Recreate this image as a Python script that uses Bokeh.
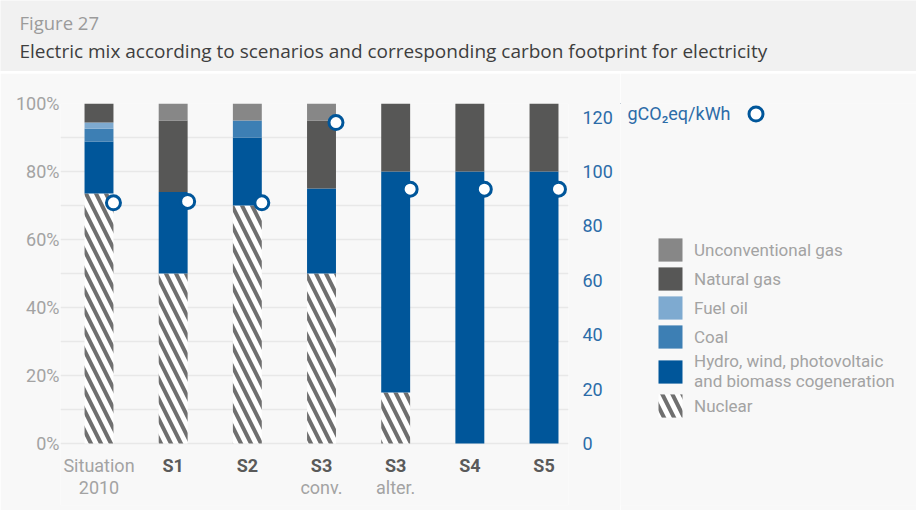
import re
from bokeh.plotting import figure
from bokeh.models import (ColumnDataSource, Range1d, LinearAxis, FixedTicker,
                          Legend, LegendItem, Label, CDSView, IndexFilter)
from bokeh.transform import dodge, stack
from bokeh.layouts import column, row
from bokeh.embed import file_html
from bokeh.resources import INLINE
from bokeh.core.properties import value

# ---------------- data ----------------
categories = ["Situation 2010", "S1", "S2", "S3 conv.", "S3 alter.", "S4", "S5"]
cat_main = ["Situation", "S1", "S2", "S3", "S3", "S4", "S5"]
cat_sub = ["2010", "", "", "conv.", "alter.", "", ""]

nuclear = [73.5, 50, 70, 50, 15, 0, 0]
hydro = [15.3, 24, 20, 25, 65, 80, 80]
coal = [3.8, 0, 5, 0, 0, 0, 0]
fuel_oil = [1.8, 0, 0, 0, 0, 0, 0]
natural_gas = [5.6, 21, 0, 20, 20, 20, 20]
unconv_gas = [0, 5, 5, 5, 0, 0, 0]
co2 = [88.5, 89, 88.5, 118, 93.5, 93.5, 93.5]

pct_ticks = [0, 20, 40, 60, 80, 100]
pct_grid = [0, 10, 20, 30, 40, 50, 60, 70, 80, 90, 100]
co2_ticks = [0, 20, 40, 60, 80, 100, 120]
co2_max = 125

series_names = ["nuclear", "hydro", "coal", "fuel_oil", "natural_gas", "unconv_gas"]
series_labels = {
    "nuclear": "Nuclear",
    "hydro": "Hydro, wind, photovoltaic\nand biomass cogeneration",
    "coal": "Coal",
    "fuel_oil": "Fuel oil",
    "natural_gas": "Natural gas",
    "unconv_gas": "Unconventional gas",
}
unit_label = "gCO₂eq/kWh"
fig_number = "Figure 27"
fig_title = "Electric mix according to scenarios and corresponding carbon footprint for electricity"

# ---------------- styles / layout ----------------
FONT = "Roboto"
BODY_BG = "#f8f8f8"
HEAD_BG = "#f1f1f1"
BLUE = "#00569a"
AXIS_BLUE = "#2c6ca8"
LIGHT_TXT = "#a3a3a3"
DARK_TXT = "#5a5a5a"

styles = {
    "nuclear": dict(fill_color="white", hatch_pattern="left_diagonal_line",
                    hatch_color="#6f6f6f", hatch_scale=20, hatch_weight=4),
    "hydro": dict(fill_color="#00569a"),
    "coal": dict(fill_color="#3d7fb4"),
    "fuel_oil": dict(fill_color="#7eaad0"),
    "natural_gas": dict(fill_color="#575756"),
    "unconv_gas": dict(fill_color="#878787"),
}

W = 916
H_HEAD = 71
H_SEP = 2
H_BODY = 510 - H_HEAD - H_SEP
W_MAIN = 620
W_LEG = W - W_MAIN
B_LEFT, B_TOP, B_BOTTOM = 60, 30, 5
B_RIGHT = W_MAIN - 568
frame_w = W_MAIN - B_LEFT - B_RIGHT
frame_h = H_BODY - B_TOP - B_BOTTOM
px_per_pct = 3.4
px_per_cat = 74.17
zero_from_bottom = frame_h - 100 * px_per_pct
y_start = -zero_from_bottom / px_per_pct
x_start = -38.5 / px_per_cat
x_end = x_start + frame_w / px_per_cat


def bare(fig, bg):
    fig.grid.visible = False
    fig.background_fill_color = bg
    fig.border_fill_color = bg
    fig.outline_line_color = None


# ---------------- header ----------------
head = figure(width=W, height=H_HEAD, x_range=Range1d(0, W), y_range=Range1d(H_HEAD, 0),
              output_backend="svg", toolbar_location=None,
              x_axis_location=None, y_axis_location=None, min_border=0)
bare(head, HEAD_BG)
head_src = ColumnDataSource(dict(x=[19, 19], y=[22, 50], t=[fig_number, fig_title],
                                 c=["#9b9b9b", "#3e3e3e"], s=["18.5px", "19px"]))
head.text(x="x", y="y", text="t", text_color="c", source=head_src,
          text_font=value("Open Sans"), text_font_size="s",
          text_baseline="middle", text_align="left")

sep = figure(width=W, height=H_SEP, x_range=Range1d(0, 1), y_range=Range1d(0, 1),
             output_backend="svg", toolbar_location=None,
             x_axis_location=None, y_axis_location=None, min_border=0)
bare(sep, "#d6d6d6")

# ---------------- main chart ----------------
p = figure(width=W_MAIN, height=H_BODY, output_backend="svg", toolbar_location=None,
           x_range=Range1d(x_start, x_end), y_range=Range1d(y_start, 100),
           x_axis_location=None, min_border_left=B_LEFT, min_border_right=B_RIGHT,
           min_border_top=B_TOP, min_border_bottom=B_BOTTOM)
p.background_fill_color = BODY_BG
p.border_fill_color = BODY_BG
p.outline_line_color = None
p.xgrid.visible = False
p.ygrid.ticker = FixedTicker(ticks=pct_grid)
p.ygrid.grid_line_color = "#e8e8e8"
p.ygrid.grid_line_width = 1.5

p.yaxis.ticker = FixedTicker(ticks=pct_ticks)
p.yaxis.major_label_overrides = {t: f"{t}%" for t in pct_ticks}
p.yaxis.axis_line_color = None
p.yaxis.major_tick_line_color = None
p.yaxis.minor_tick_line_color = None
p.yaxis.major_tick_out = 0
p.yaxis.major_label_text_font = FONT
p.yaxis.major_label_text_font_size = "18px"
p.yaxis.major_label_text_color = LIGHT_TXT
p.yaxis.major_label_standoff = 1

p.extra_y_ranges = {"co2": Range1d(y_start * co2_max / 100, co2_max)}
rax = LinearAxis(y_range_name="co2", ticker=FixedTicker(ticks=co2_ticks))
rax.axis_line_color = None
rax.major_tick_line_color = None
rax.minor_tick_line_color = None
rax.major_tick_out = 0
rax.major_label_text_font = FONT
rax.major_label_text_font_size = "18px"
rax.major_label_text_color = AXIS_BLUE
rax.major_label_standoff = 14
p.add_layout(rax, "right")

src = ColumnDataSource(dict(x=list(range(len(categories))), cat=categories,
                            nuclear=nuclear, hydro=hydro, coal=coal, fuel_oil=fuel_oil,
                            natural_gas=natural_gas, unconv_gas=unconv_gas, co2=co2))

for i, name in enumerate(series_names):
    bottom = stack(*series_names[:i]) if i > 0 else 0
    p.vbar(x="x", width=0.39, bottom=bottom, top=stack(*series_names[:i + 1]),
           source=src, line_color=None, **styles[name])

circle_style = dict(fill_color="white", line_color=BLUE, line_width=3)
p.scatter(x=dodge("x", 0.195, range=p.x_range), y="co2", y_range_name="co2",
          source=src, size=14, **circle_style)

is_bold = [bool(re.fullmatch(r"S\d", m)) for m in cat_main]
lab_src = ColumnDataSource(dict(
    x=list(range(len(categories))), main=cat_main, sub=cat_sub,
    style=["bold" if b else "normal" for b in is_bold],
    color=[DARK_TXT if b else LIGHT_TXT for b in is_bold],
    y1=[-22 / px_per_pct] * len(categories),
    y2=[-44 / px_per_pct] * len(categories),
))
p.text(x="x", y="y1", text="main", source=lab_src, text_font=value(FONT),
       text_font_size="18px", text_font_style="style", text_color="color",
       text_align="center", text_baseline="middle")
p.text(x="x", y="y2", text="sub", source=lab_src, text_font=value(FONT),
       text_font_size="18px", text_color=LIGHT_TXT,
       text_align="center", text_baseline="middle")

# ---------------- legend panel ----------------
L_TOP = 510 - H_BODY + B_TOP   # page y of the panel frame top
L_BOTTOM = 510 - B_BOTTOM      # page y of the panel frame bottom
lg = figure(width=W_LEG, height=H_BODY, output_backend="svg", toolbar_location=None,
            x_range=Range1d(W_MAIN, W), y_range=Range1d(L_BOTTOM, L_TOP),
            x_axis_location=None, y_axis_location=None,
            min_border_left=0, min_border_right=0, min_border_top=B_TOP,
            min_border_bottom=B_BOTTOM)
bare(lg, BODY_BG)

# legend-key renderers: share the data, but their category positions fall
# outside this panel's x range, so only their legend keys are shown
key_view = CDSView(filter=IndexFilter(indices=[0]))
leg_rends = {n: lg.vbar(x="x", top=n, width=0.39, source=src, view=key_view,
                        line_color=None, **styles[n])
             for n in series_names}
order = ["unconv_gas", "natural_gas", "fuel_oil", "coal", "hydro", "nuclear"]

legend = Legend(items=[LegendItem(label=series_labels[n], renderers=[leg_rends[n]]) for n in order],
                location=(655 - W_MAIN, L_BOTTOM - 420), orientation="vertical",
                glyph_width=30, glyph_height=29, label_height=29, spacing=0,
                padding=0, margin=0, label_standoff=9,
                label_text_font=FONT, label_text_font_size="17px",
                label_text_color=LIGHT_TXT, label_text_line_height=1.2,
                background_fill_alpha=0, border_line_color=None)
lg.add_layout(legend, "center")

circ_key = lg.scatter(x="x", y="co2", source=src, view=key_view, **circle_style)
leg2 = Legend(items=[LegendItem(label="", renderers=[circ_key])],
              location=(755 - 17.5 - W_MAIN, L_BOTTOM - (113 + 17.5)),
              glyph_width=35, glyph_height=35, label_height=35, padding=0, margin=0,
              label_standoff=0, background_fill_alpha=0, border_line_color=None)
lg.add_layout(leg2, "center")
lg.add_layout(Label(x=627, y=113, text=unit_label, text_font=FONT, text_font_size="18px",
                    text_color=AXIS_BLUE, text_align="left", text_baseline="middle"))

layout = column(head, sep, row(p, lg, spacing=0), spacing=0)
open("out.html", "w").write(file_html(layout, INLINE))
